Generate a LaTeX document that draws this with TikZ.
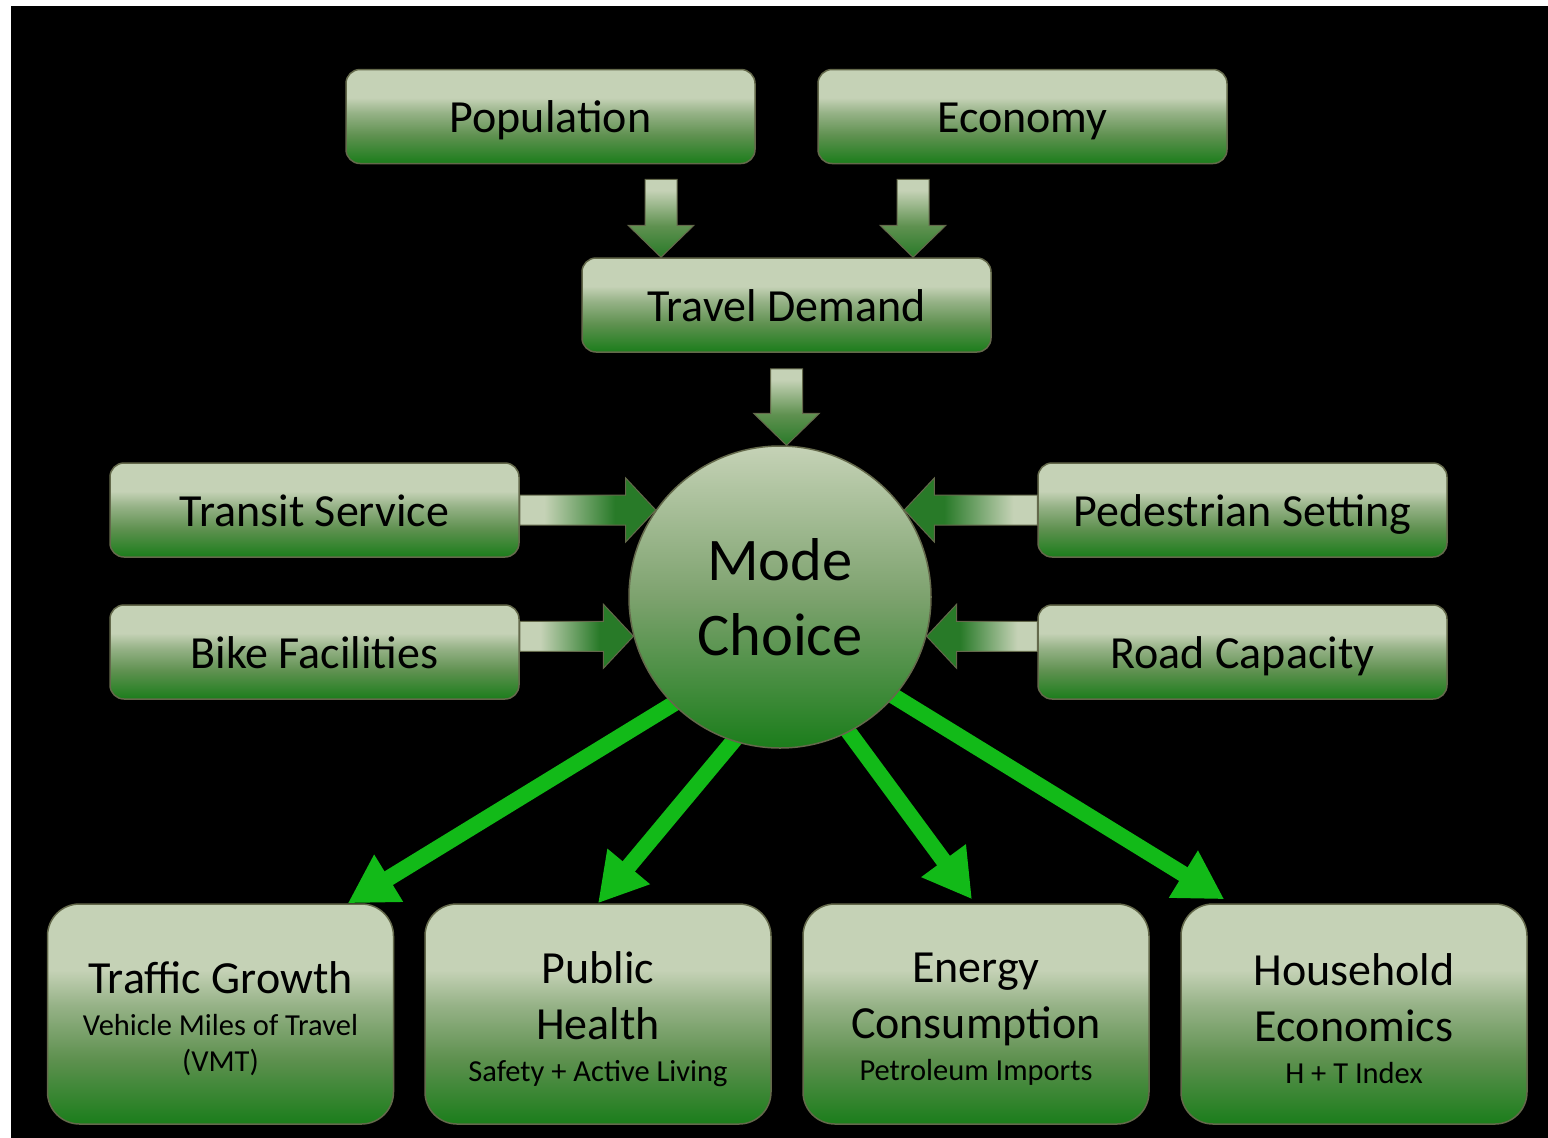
\documentclass[tikz,border=0pt]{standalone}
\usepackage{fontspec}
\setmainfont{Carlito}
\usetikzlibrary{calc,arrows.meta,backgrounds}
\definecolor{glight}{RGB}{197,210,182}
\definecolor{gmidA}{RGB}{150,178,135}
\definecolor{gmidB}{RGB}{95,145,80}
\definecolor{gmidC}{RGB}{125,162,110}
\definecolor{gdark}{RGB}{27,125,27}
\definecolor{garrdark}{RGB}{40,122,40}
\definecolor{gborder}{RGB}{100,105,75}
\definecolor{gline}{RGB}{18,186,24}
\pgfdeclareverticalshading{boxshade}{100bp}{color(0bp)=(gdark); color(25bp)=(gdark); color(40bp)=(gmidB); color(52bp)=(gmidA); color(60bp)=(glight); color(100bp)=(glight)}
\pgfdeclareverticalshading{circshade}{100bp}{color(0bp)=(gdark); color(25bp)=(gdark); color(50bp)=(gmidC); color(75bp)=(glight); color(100bp)=(glight)}
\pgfdeclareverticalshading{vshade}{100bp}{color(0bp)=(garrdark); color(25bp)=(garrdark); color(45bp)=(gmidB); color(68bp)=(glight); color(100bp)=(glight)}
\pgfdeclarehorizontalshading{rshade}{100bp}{color(0bp)=(glight); color(34bp)=(glight); color(60bp)=(garrdark); color(100bp)=(garrdark)}
\pgfdeclarehorizontalshading{lshade}{100bp}{color(0bp)=(garrdark); color(40bp)=(garrdark); color(66bp)=(glight); color(100bp)=(glight)}
\newcommand{\bxtitle}{\fontsize{46}{56}\selectfont}
\newcommand{\bxsub}[1]{\fontsize{30.5}{#1}\selectfont}
\newcommand{\bxlines}[1]{\vbox{\kern10pt\hsize=340pt\parindent=0pt\parskip=0pt\centering #1}}
% block arrow pointing right: #1 shaft base, #2 tip (x used)
\newcommand{\harrowR}[2]{%
  \path[blockR] let \p1=(#1), \p2=(#2) in
   (\x1,\y1+15pt) -- (\x2-30pt,\y1+15pt) -- (\x2-30pt,\y1+32pt) -- (\x2,\y1) --
   (\x2-30pt,\y1-32pt) -- (\x2-30pt,\y1-15pt) -- (\x1,\y1-15pt) -- cycle;}
% block arrow pointing left
\newcommand{\harrowL}[2]{%
  \path[blockL] let \p1=(#1), \p2=(#2) in
   (\x1,\y1+15pt) -- (\x2+30pt,\y1+15pt) -- (\x2+30pt,\y1+32pt) -- (\x2,\y1) --
   (\x2+30pt,\y1-32pt) -- (\x2+30pt,\y1-15pt) -- (\x1,\y1-15pt) -- cycle;}
% block arrow pointing down: #1 shaft top, #2 tip (y used)
\newcommand{\varrow}[2]{%
  \path[blockV] let \p1=(#1), \p2=(#2) in
   (\x1-16pt,\y1) -- (\x1+16pt,\y1) -- (\x1+16pt,\y2+32pt) -- (\x1+33pt,\y2+32pt) --
   (\x1,\y2) -- (\x1-33pt,\y2+32pt) -- (\x1-16pt,\y2+32pt) -- cycle;}
\begin{document}
\begin{tikzpicture}[x=1pt,y=-1pt,
  smallbox/.style={rectangle, rounded corners=14pt, draw=gborder, line width=1.5pt,
    shade, shading=boxshade, minimum width=409pt, minimum height=94pt, inner sep=0pt,
    font=\fontsize{46}{56}\selectfont, text height=43pt, text depth=11pt},
  bigbox/.style={rectangle, rounded corners=32pt, draw=gborder, line width=1.5pt,
    shade, shading=boxshade, minimum width=346pt, minimum height=220pt, inner sep=0pt},
  modecirc/.style={circle, draw=gborder, line width=1.5pt, shade, shading=circshade,
    minimum size=302pt, inner sep=0pt, align=center, font=\fontsize{60.5}{75}\selectfont},
  outarrow/.style={draw=gline, line width=16pt, -{Triangle[length=48pt,width=52pt]}},
  blockR/.style={shade, shading=rshade, draw=gborder, line width=1pt},
  blockL/.style={shade, shading=lshade, draw=gborder, line width=1pt},
  blockV/.style={shade, shading=vshade, draw=gborder, line width=1pt}]
\useasboundingbox (0,0) rectangle (1548,1138);
\begin{scope}[on background layer]
  \fill[white] (0,0) rectangle (1548,1138);
  \fill[black] (11,6) rectangle (1548,1138);
\end{scope}

% nodes
\node[smallbox] (pop) at (550.5,116.5) {Population};
\node[smallbox] (eco) at (1022.5,116.5) {Economy};
\node[smallbox] (td)  at (786.5,305) {Travel Demand};
\node[smallbox] (ts)  at (314.5,510) {Transit Service};
\node[smallbox] (bf)  at (314.5,652) {Bike Facilities};
\node[smallbox] (ps)  at (1242.5,510) {Pedestrian Setting};
\node[smallbox] (rc)  at (1242.5,652) {Road Capacity};
\node[modecirc] (mc)  at (780,597) {Mode\\Choice};
\node[bigbox] (tg) at (220.5,1014) {\bxlines{\bxtitle Traffic Growth\par\bxsub{42}Vehicle Miles of Travel\par\bxsub{36}(VMT)\par}};
\node[bigbox] (ph) at (598,1014) {\bxlines{\bxtitle Public\par Health\par\bxsub{42}Safety + Active Living\par}};
\node[bigbox] (en) at (976,1014) {\bxlines{\bxtitle Energy\par Consumption\par\bxsub{42}Petroleum Imports\par}};
\node[bigbox] (hh) at (1354,1014) {\bxlines{\bxtitle Household\par Economics\par\bxsub{42}H + T Index\par}};

% connectors (behind the nodes)
\begin{scope}[on background layer]
  \varrow{[xshift=110.5pt,yshift=-15pt]pop.south}{td.north}
  \varrow{[xshift=-109.5pt,yshift=-15pt]eco.south}{td.north}
  \varrow{[yshift=-16pt]td.south}{mc.north}
  \harrowR{ts.east}{mc.145}
  \harrowR{bf.east |- mc.195}{mc.195}
  \harrowL{ps.west}{mc.35}
  \harrowL{rc.west |- mc.345}{mc.345}
  \coordinate (t1) at ([xshift=301pt]tg.north west);
  \coordinate (t2) at (ph.north);
  \coordinate (t3) at ([xshift=-4pt,yshift=4pt]en.north);
  \coordinate (t4) at ([xshift=44pt,yshift=4pt]hh.north west);
  \draw[outarrow] ($(mc.225)!-15pt!(t1)$) -- (t1);
  \draw[outarrow] ($(mc.252)!-15pt!(t2)$) -- (t2);
  \draw[outarrow] ($(mc.297)!-15pt!(t3)$) -- (t3);
  \draw[outarrow] ($(mc.319)!-15pt!(t4)$) -- (t4);
\end{scope}
\end{tikzpicture}
\end{document}
